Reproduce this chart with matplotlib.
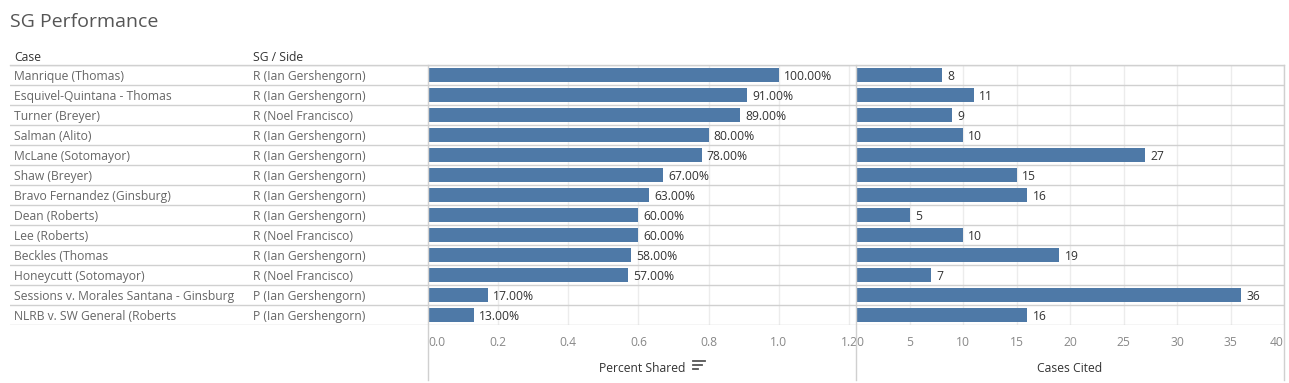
import matplotlib
matplotlib.use("Agg")
import matplotlib.pyplot as plt
from matplotlib.lines import Line2D

plt.rcParams['font.family'] = ['Open Sans', 'DejaVu Sans']

cases = ["Manrique (Thomas)", "Esquivel-Quintana - Thomas", "Turner (Breyer)", "Salman (Alito)",
         "McLane (Sotomayor)", "Shaw (Breyer)", "Bravo Fernandez (Ginsburg)", "Dean (Roberts)",
         "Lee (Roberts)", "Beckles (Thomas", "Honeycutt (Sotomayor)",
         "Sessions v. Morales Santana - Ginsburg", "NLRB v. SW General (Roberts"]
sides = ["R (Ian Gershengorn)", "R (Ian Gershengorn)", "R (Noel Francisco)", "R (Ian Gershengorn)",
         "R (Ian Gershengorn)", "R (Ian Gershengorn)", "R (Ian Gershengorn)", "R (Ian Gershengorn)",
         "R (Noel Francisco)", "R (Ian Gershengorn)", "R (Noel Francisco)",
         "P (Ian Gershengorn)", "P (Ian Gershengorn)"]
percent_shared = [1.00, 0.91, 0.89, 0.80, 0.78, 0.67, 0.63, 0.60, 0.60, 0.58, 0.57, 0.17, 0.13]
cases_cited = [8, 11, 9, 10, 27, 15, 16, 5, 10, 19, 7, 36, 16]
pct_ticks = [0.0, 0.2, 0.4, 0.6, 0.8, 1.0, 1.2]
cnt_ticks = [0, 5, 10, 15, 20, 25, 30, 35, 40]

W, H = 1289, 383
fig = plt.figure(figsize=(W / 100, H / 100), dpi=100)

BAR = "#4e79a7"
GRID = "#ececec"
LINE = "#d0d0d0"
TXT = "#666666"
DARK = "#333333"
FS = 8.7

top_px, bot_px = 65, 325
def fx(px): return px / W
def fy(py): return 1 - py / H

n = len(cases)
ypos = [i + 0.5 for i in range(n)]

ax0 = fig.add_axes([fx(10), fy(bot_px), fx(428 - 10), (bot_px - top_px) / H])
ax1 = fig.add_axes([fx(428), fy(bot_px), fx(856 - 428), (bot_px - top_px) / H])
ax2 = fig.add_axes([fx(856), fy(bot_px), fx(1284 - 856), (bot_px - top_px) / H])

for ax in (ax0, ax1, ax2):
    ax.set_ylim(n, 0)
    for s in ax.spines.values():
        s.set_visible(False)
    ax.set_yticks([])
    for k in range(n + 1):
        ax.axhline(k, color=LINE, lw=1, zorder=3)

VA = "center_baseline"
# table
ax0.set_xlim(0, 418)
ax0.set_xticks([])
for y, c, s in zip(ypos, cases, sides):
    ax0.text(4, y, c, va=VA, ha="left", fontsize=FS, color=TXT)
    ax0.text(243, y, s, va=VA, ha="left", fontsize=FS, color=TXT)
fig.text(fx(14), fy(56), "Case", va=VA, ha="left", fontsize=FS, color=DARK)
fig.text(fx(253), fy(56), "SG / Side", va=VA, ha="left", fontsize=FS, color=DARK)

# percent panel
ax1.set_xlim(0, 1.22)
ax1.barh(ypos, percent_shared, height=0.7, color=BAR, zorder=2)
for y, v in zip(ypos, percent_shared):
    ax1.text(v + 0.014, y, f"{v*100:.2f}%", va=VA, ha="left", fontsize=FS, color=DARK)
ax1.set_xticks(pct_ticks)
ax1.set_xticklabels([f"{t:.1f}" for t in pct_ticks])
for t in pct_ticks[1:]:
    ax1.axvline(t, color=GRID, lw=1, zorder=1)

# count panel
ax2.set_xlim(0, 40)
ax2.barh(ypos, cases_cited, height=0.7, color=BAR, zorder=2)
for y, v in zip(ypos, cases_cited):
    ax2.text(v + 0.5, y, f"{v}", va=VA, ha="left", fontsize=FS, color=DARK)
ax2.set_xticks(cnt_ticks)
ax2.set_xticklabels([str(t) for t in cnt_ticks])
for t in cnt_ticks[1:]:
    ax2.axvline(t, color=GRID, lw=1, zorder=1)

for ax in (ax1, ax2):
    ax.tick_params(axis="x", length=0, pad=8, labelsize=FS, labelcolor="#888888")
labs = ax1.get_xticklabels()
labs[0].set_ha("left")
labs2 = ax2.get_xticklabels()
labs2[0].set_ha("left")
labs2[-1].set_ha("right")

ax1.set_xlabel("Percent Shared", fontsize=FS, color=DARK, labelpad=9)
ax2.set_xlabel("Cases Cited", fontsize=FS, color=DARK, labelpad=9)

# sort icon next to "Percent Shared"
for i, (x0, x1) in enumerate([(693, 705), (693, 702), (693, 698)]):
    yy = fy(361 + i * 4)
    fig.add_artist(Line2D([fx(x0), fx(x1)], [yy, yy], color="#555555", lw=1.3))

# frame lines
fig.add_artist(Line2D([fx(10), fx(1284)], [fy(top_px), fy(top_px)], color=LINE, lw=1))
for xv in (428, 856, 1284):
    fig.add_artist(Line2D([fx(xv), fx(xv)], [fy(top_px), fy(380)], color=LINE, lw=1))

fig.text(fx(10), fy(22), "SG Performance", va="center", ha="left", fontsize=14, color="#555555")

fig.savefig("out.png", dpi=100, facecolor="white")
